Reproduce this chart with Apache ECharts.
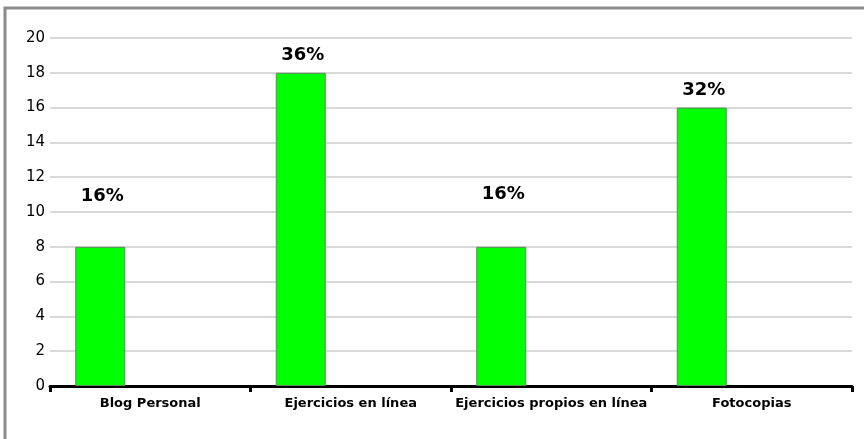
<!DOCTYPE html>
<html>
<head>
<meta charset="utf-8">
<script src="https://cdn.jsdelivr.net/npm/echarts@6/dist/echarts.min.js"></script>
<style>
  html, body { margin: 0; padding: 0; background: #fff; }
  #chart { width: 864px; height: 439px; }
</style>
</head>
<body>
<div id="chart"></div>
<script>
'use strict';

var categories = ['Blog Personal', 'Ejercicios en línea', 'Ejercicios propios en línea', 'Fotocopias'];
var values = [8, 18, 8, 16];
var percents = ['16%', '36%', '16%', '32%'];
// extra lift of each percent label above its bar
var labelLift = [33, 0, 35, 0];

var chart = echarts.init(document.getElementById('chart'));

var barData = values.map(function (v, i) {
    return {
        value: v,
        label: { offset: [2, -labelLift[i]] }
    };
});

var option = {
    animation: false,
    backgroundColor: '#fff',
    graphic: [{
        // frame: top and left edges only
        type: 'polyline',
        shape: { points: [[5, 439], [5, 8], [864, 8]] },
        style: { stroke: '#8c8c8c', lineWidth: 3, fill: null },
        silent: true
    }],
    grid: { left: 50, right: 12, top: 38, bottom: 53 },
    xAxis: {
        type: 'category',
        data: categories,
        axisLine: { lineStyle: { color: '#000', width: 3 } },
        axisTick: { show: true, interval: 0, length: 6, lineStyle: { color: '#000', width: 3 } },
        axisLabel: {
            interval: 0,
            color: '#000',
            fontFamily: 'DejaVu Sans',
            fontWeight: 'bold',
            fontSize: 13,
            margin: 11
        }
    },
    yAxis: {
        type: 'value',
        min: 0,
        max: 20,
        interval: 2,
        axisLine: { show: false },
        axisTick: { show: false },
        axisLabel: {
            color: '#000',
            fontFamily: 'DejaVu Sans',
            fontSize: 15,
            margin: 5
        },
        splitLine: { lineStyle: { color: '#cccccc', width: 1.5 } }
    },
    series: [{
        type: 'bar',
        data: barData,
        barWidth: 50,
        barGap: '100%',
        itemStyle: { color: '#00ff00', borderColor: '#5a8a5a', borderWidth: 1 },
        label: {
            show: true,
            position: 'top',
            distance: 8,
            color: '#000',
            fontFamily: 'DejaVu Sans',
            fontWeight: 'bold',
            fontSize: 18,
            formatter: function (p) { return percents[p.dataIndex]; }
        }
    }, {
        // empty companion series keeps the bars in the left half of each band
        type: 'bar',
        data: values.map(function () { return '-'; }),
        barWidth: 50,
        silent: true
    }]
};

chart.setOption(option);
</script>
</body>
</html>
